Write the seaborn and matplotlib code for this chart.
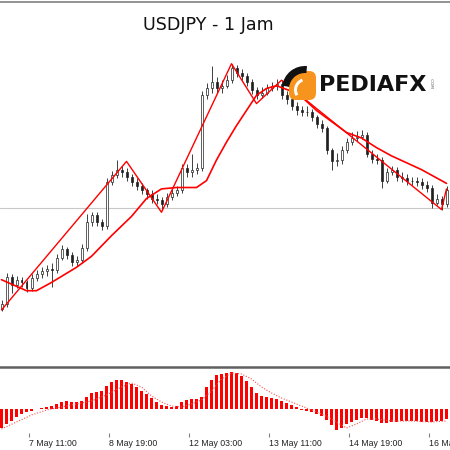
import numpy as np
import matplotlib
matplotlib.use('Agg')
import matplotlib.pyplot as plt
from matplotlib.patches import FancyBboxPatch, Wedge
import seaborn as sns

first_open = 106.00
closes = [106.03, 106.23, 106.17, 106.21, 106.19, 106.15, 106.22, 106.25, 106.27, 106.29,
          106.28, 106.37, 106.43, 106.39, 106.34, 106.35, 106.44, 106.63, 106.68, 106.63,
          106.60, 106.92, 106.97, 107.01, 106.99, 106.96, 106.92, 106.89, 106.86, 106.83,
          106.80, 106.79, 106.76, 106.81, 106.84, 106.86, 107.02, 106.99, 107.01, 107.02,
          107.55, 107.60, 107.65, 107.60, 107.62, 107.66, 107.75, 107.71, 107.69, 107.65,
          107.59, 107.55, 107.57, 107.60, 107.62, 107.63, 107.55, 107.52, 107.47, 107.44,
          107.43, 107.43, 107.39, 107.34, 107.31, 107.15, 107.07, 107.08, 107.15, 107.21,
          107.24, 107.25, 107.26, 107.12, 107.09, 107.08, 106.93, 106.99, 107.01, 106.96,
          106.95, 106.93, 106.93, 106.92, 106.90, 106.88, 106.77, 106.80, 106.76, 106.86]
highs = [106.06, 106.26, 106.25, 106.24, 106.23, 106.21, 106.25, 106.28, 106.30, 106.32,
         106.33, 106.40, 106.46, 106.45, 106.41, 106.38, 106.47, 106.69, 106.70, 106.70,
         106.65, 106.95, 107.00, 107.08, 107.04, 107.02, 106.98, 106.95, 106.91, 106.88,
         106.86, 106.83, 106.81, 106.84, 106.87, 106.89, 107.05, 107.05, 107.12, 107.06,
         107.58, 107.64, 107.76, 107.68, 107.66, 107.70, 107.78, 107.77, 107.74, 107.71,
         107.67, 107.61, 107.61, 107.63, 107.65, 107.67, 107.66, 107.58, 107.54, 107.50,
         107.47, 107.47, 107.45, 107.41, 107.37, 107.33, 107.17, 107.13, 107.18, 107.24,
         107.28, 107.29, 107.30, 107.28, 107.15, 107.12, 107.10, 107.02, 107.04, 107.03,
         106.99, 106.98, 106.96, 106.96, 106.95, 106.93, 106.90, 106.83, 106.82, 106.89]
lows = [105.98, 106.01, 106.11, 106.15, 106.16, 106.12, 106.13, 106.20, 106.22, 106.24,
        106.16, 106.26, 106.35, 106.36, 106.31, 106.31, 106.33, 106.42, 106.60, 106.60,
        106.57, 106.58, 106.90, 106.95, 106.96, 106.93, 106.89, 106.86, 106.83, 106.80,
        106.77, 106.76, 106.72, 106.74, 106.79, 106.82, 106.84, 106.96, 106.96, 106.98,
        107.00, 107.52, 107.57, 107.57, 107.57, 107.60, 107.64, 107.68, 107.66, 107.62,
        107.56, 107.52, 107.53, 107.55, 107.58, 107.59, 107.52, 107.49, 107.44, 107.41,
        107.40, 107.40, 107.36, 107.31, 107.28, 107.12, 107.01, 107.04, 107.05, 107.13,
        107.19, 107.22, 107.23, 107.10, 107.06, 107.05, 106.88, 106.91, 106.97, 106.93,
        106.92, 106.90, 106.90, 106.89, 106.87, 106.85, 106.73, 106.75, 106.72, 106.74]

# moyenne mobile (rouge)
ma_idx = [0, 5, 7, 10, 15, 18, 22, 26, 29, 32, 35, 39, 41, 43, 45, 47, 49, 51, 53, 55,
          58, 60, 63, 66, 69, 72, 75, 78, 81, 84, 87, 89]
ma_vals = [106.21, 106.13, 106.13, 106.19, 106.30, 106.38, 106.53, 106.67, 106.80, 106.87,
           106.88, 106.88, 106.93, 107.08, 107.21, 107.33, 107.44, 107.55, 107.60, 107.62,
           107.58, 107.54, 107.44, 107.36, 107.28, 107.24, 107.17, 107.11, 107.06, 107.01,
           106.95, 106.91]

# zigzag
zz_idx = [0, 25, 32, 46, 51, 56, 88, 89]
zz_vals = [105.99, 107.07, 106.70, 107.78, 107.49, 107.66, 106.72, 106.87]

price_line = 106.73

# MACD
macd_hist = [-0.057, -0.045, -0.036, -0.024, -0.015, -0.009, -0.006, 0.000, 0.003, 0.006,
             0.009, 0.015, 0.021, 0.024, 0.021, 0.021, 0.024, 0.036, 0.048, 0.051,
             0.054, 0.069, 0.081, 0.087, 0.087, 0.081, 0.075, 0.066, 0.054, 0.045,
             0.033, 0.021, 0.012, 0.009, 0.006, 0.009, 0.021, 0.027, 0.030, 0.030,
             0.036, 0.066, 0.087, 0.102, 0.105, 0.108, 0.111, 0.108, 0.099, 0.084,
             0.066, 0.048, 0.039, 0.036, 0.033, 0.030, 0.024, 0.018, 0.012, 0.006,
             -0.003, -0.006, -0.009, -0.015, -0.021, -0.033, -0.048, -0.063, -0.057, -0.045,
             -0.039, -0.033, -0.027, -0.027, -0.033, -0.036, -0.042, -0.042, -0.039, -0.039,
             -0.036, -0.036, -0.036, -0.036, -0.039, -0.039, -0.039, -0.036, -0.036, -0.030]
sig_idx = [0, 3, 6, 9, 12, 15, 18, 21, 24, 26, 28, 30, 32, 34, 36, 38, 40, 42, 44, 46,
           48, 50, 52, 54, 56, 58, 60, 62, 64, 66, 68, 69, 71, 73, 75, 78, 82, 86, 89]
sig_vals = [-0.060, -0.039, -0.018, -0.003, 0.006, 0.015, 0.024, 0.042, 0.066, 0.078,
            0.066, 0.039, 0.021, 0.009, 0.006, 0.015, 0.027, 0.054, 0.090, 0.108,
            0.105, 0.090, 0.066, 0.048, 0.033, 0.021, 0.009, -0.003, -0.015, -0.030,
            -0.048, -0.057, -0.045, -0.030, -0.030, -0.036, -0.036, -0.039, -0.036]

tick_labels = ['7 May 11:00', '8 May 19:00', '12 May 03:00', '13 May 11:00',
               '14 May 19:00', '16 May 03:00']
titre = 'USDJPY - 1 Jam'

sns.set_style('white')
plt.rcParams['font.family'] = ['DejaVu Sans']

closes = np.array(closes)
opens = np.r_[first_open, closes[:-1]]
idx = np.arange(len(closes))
bull = closes >= opens

fig = plt.figure(figsize=(4.5, 4.5), dpi=100)
ax = fig.add_axes([0, 1 - 365 / 450, 1, (365 - 1.5) / 450])
ax2 = fig.add_axes([0, 1 - 433 / 450, 1, (433 - 367) / 450])

# bougies
ax.vlines(idx, lows, highs, color='#202020', lw=0.6, zorder=2)
ax.bar(idx[bull], closes[bull] - opens[bull], bottom=opens[bull], width=0.4,
       color='white', edgecolor='#202020', linewidth=0.5, zorder=3)
ax.bar(idx[~bull], opens[~bull] - closes[~bull], bottom=closes[~bull], width=0.4,
       color='#202020', edgecolor='#202020', linewidth=0.5, zorder=3)
ax.axhline(price_line, color='#c8c8c8', lw=0.8, zorder=1)
sns.lineplot(x=ma_idx, y=ma_vals, ax=ax, color='red', lw=1.2, zorder=4)
sns.lineplot(x=zz_idx, y=zz_vals, ax=ax, color='red', lw=1.0, zorder=4)

ax.set_xlim(-0.3, 89.7)
ax.set_ylim(105.59, 108.232)
ax.set_xticks([])
ax.set_yticks([])
for s in ['left', 'right', 'bottom']:
    ax.spines[s].set_visible(False)
ax.spines['top'].set_color('#808080')
ax.spines['top'].set_linewidth(1.2)

# MACD
ax2.bar(idx, macd_hist, width=0.78, color='red', linewidth=0, zorder=2)
sns.lineplot(x=sig_idx, y=sig_vals, ax=ax2, color='#ff5050', lw=0.8, linestyle=(0, (1, 1.5)), zorder=3)
ax2.set_xlim(-0.3, 89.7)
ax2.set_ylim(-0.072, 0.126)
ax2.set_yticks([])
ax2.set_xticks([5.5 + 16 * k for k in range(len(tick_labels))])
ax2.set_xticklabels(tick_labels, fontsize=6.3, family='Liberation Sans', color='#222222', ha='left')
ax2.tick_params(axis='x', length=3, color='#808080', pad=1.5, direction='out', bottom=True)
for s in ['left', 'right', 'bottom']:
    ax2.spines[s].set_visible(False)
ax2.spines['top'].set_color('#606060')
ax2.spines['top'].set_linewidth(1.8)

# titre et logo
deco = fig.add_axes([0, 0, 1, 1], zorder=10)
deco.set_xlim(0, 450)
deco.set_ylim(450, 0)
deco.axis('off')
deco.text(208, 25, titre, fontsize=12.6, ha='center', va='center', color='#111111')
deco.add_patch(FancyBboxPatch((289, 71), 27, 29, boxstyle='round,pad=0,rounding_size=7',
                              fc='#f7941d', ec='none'))
deco.add_patch(Wedge((306, 90), 12, 150, 250, width=3, fc='white', ec='none'))
deco.add_patch(Wedge((305, 89), 23, 188, 275, width=7, fc='#111111', ec='none'))
deco.text(319, 85, 'PEDIAFX', fontsize=16, fontweight='bold', ha='left', va='center', color='#111111')
deco.text(431, 83, '.COM', fontsize=3, rotation=-90, ha='center', va='center', color='#555555')

fig.savefig('out.png', dpi=100)
